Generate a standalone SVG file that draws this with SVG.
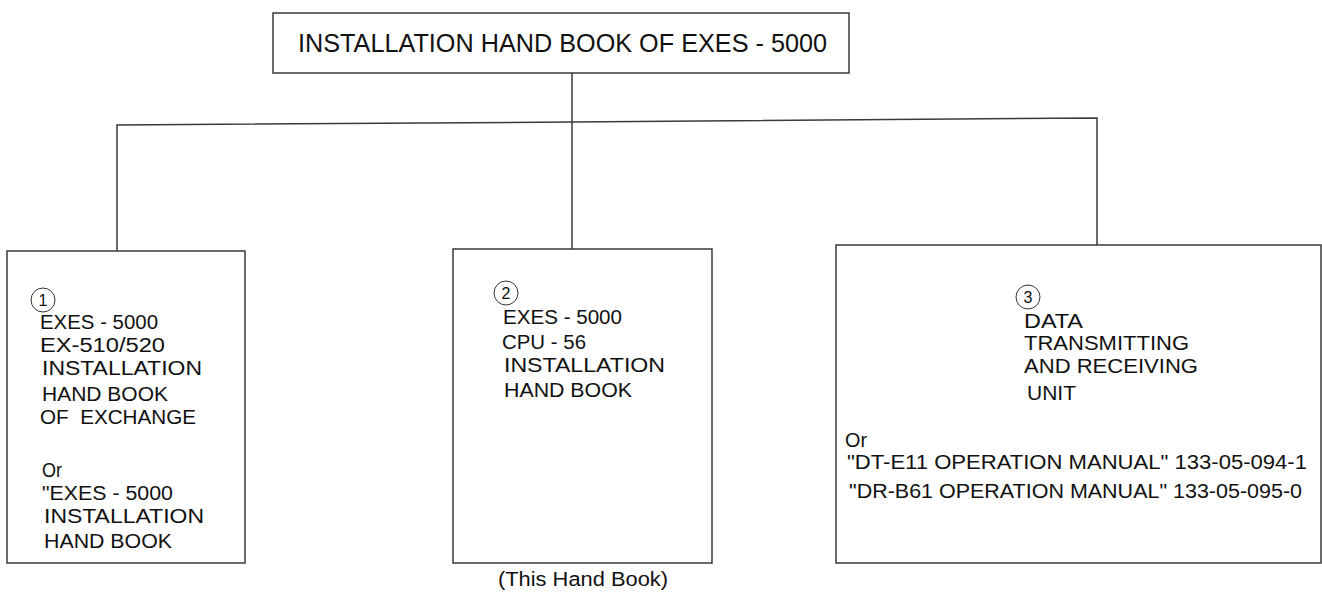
<svg xmlns="http://www.w3.org/2000/svg" width="1322" height="592" viewBox="0 0 1322 592">
<style>
  .box { fill: #fff; stroke: #3a3a3a; stroke-width: 1.5; }
  .conn { fill: none; stroke: #3a3a3a; stroke-width: 1.5; }
  text { font-family: "Liberation Sans", Arial, sans-serif; fill: #111; }
  .t { font-size: 19.5px; }
  .title { font-size: 25px; }
  .num { font-size: 16px; text-anchor: middle; }
  .ring { fill: none; stroke: #333; stroke-width: 1; }
</style>
<rect width="1322" height="592" fill="#fff"/>
<g id="connectors">
  <line class="conn" x1="572" y1="73" x2="572" y2="122"/>
  <polyline class="conn" points="117,251 117,125 572,122 1097,118 1097,245"/>
  <line class="conn" x1="572" y1="122" x2="572" y2="249"/>
</g>
<g id="top">
  <rect class="box" x="273" y="13" width="576" height="60"/>
  <text class="title" x="298" y="52" textLength="529" lengthAdjust="spacingAndGlyphs">INSTALLATION HAND BOOK OF EXES - 5000</text>
</g>
<g id="node1">
  <rect class="box" x="7" y="251" width="238" height="312"/>
  <circle class="ring" cx="43" cy="300" r="12"/>
  <text class="num" x="43" y="306">1</text>
  <text class="t" x="40" y="329" textLength="118" lengthAdjust="spacingAndGlyphs">EXES - 5000</text>
  <text class="t" x="40" y="352" textLength="125" lengthAdjust="spacingAndGlyphs">EX-510/520</text>
  <text class="t" x="42" y="375" textLength="160" lengthAdjust="spacingAndGlyphs">INSTALLATION</text>
  <text class="t" x="42" y="401" textLength="126" lengthAdjust="spacingAndGlyphs">HAND BOOK</text>
  <text class="t" x="40" y="424" textLength="156" lengthAdjust="spacingAndGlyphs" xml:space="preserve">OF  EXCHANGE</text>
  <text class="t" x="42" y="477" textLength="20" lengthAdjust="spacingAndGlyphs">Or</text>
  <text class="t" x="42" y="500" textLength="131" lengthAdjust="spacingAndGlyphs">"EXES - 5000</text>
  <text class="t" x="44" y="523" textLength="160" lengthAdjust="spacingAndGlyphs">INSTALLATION</text>
  <text class="t" x="44" y="548" textLength="128" lengthAdjust="spacingAndGlyphs">HAND BOOK</text>
</g>
<g id="node2">
  <rect class="box" x="453" y="249" width="259" height="314"/>
  <circle class="ring" cx="506" cy="293" r="12"/>
  <text class="num" x="506" y="299">2</text>
  <text class="t" x="503" y="324" textLength="119" lengthAdjust="spacingAndGlyphs">EXES - 5000</text>
  <text class="t" x="502" y="349" textLength="84" lengthAdjust="spacingAndGlyphs">CPU - 56</text>
  <text class="t" x="504" y="372" textLength="161" lengthAdjust="spacingAndGlyphs">INSTALLATION</text>
  <text class="t" x="504" y="397" textLength="128" lengthAdjust="spacingAndGlyphs">HAND BOOK</text>
  <text class="t" x="498" y="586" textLength="170" lengthAdjust="spacingAndGlyphs">(This Hand Book)</text>
</g>
<g id="node3">
  <rect class="box" x="836" y="245" width="485" height="318"/>
  <circle class="ring" cx="1028" cy="297" r="12"/>
  <text class="num" x="1028" y="303">3</text>
  <text class="t" x="1024" y="328" textLength="59" lengthAdjust="spacingAndGlyphs">DATA</text>
  <text class="t" x="1024" y="350" textLength="165" lengthAdjust="spacingAndGlyphs">TRANSMITTING</text>
  <text class="t" x="1024" y="373" textLength="174" lengthAdjust="spacingAndGlyphs">AND RECEIVING</text>
  <text class="t" x="1027" y="400" textLength="49" lengthAdjust="spacingAndGlyphs">UNIT</text>
  <text class="t" x="845" y="447" textLength="22" lengthAdjust="spacingAndGlyphs">Or</text>
  <text class="t" x="847" y="469" textLength="460" lengthAdjust="spacingAndGlyphs">"DT-E11 OPERATION MANUAL" 133-05-094-1</text>
  <text class="t" x="849" y="498" textLength="453" lengthAdjust="spacingAndGlyphs">"DR-B61 OPERATION MANUAL" 133-05-095-0</text>
</g>
</svg>
